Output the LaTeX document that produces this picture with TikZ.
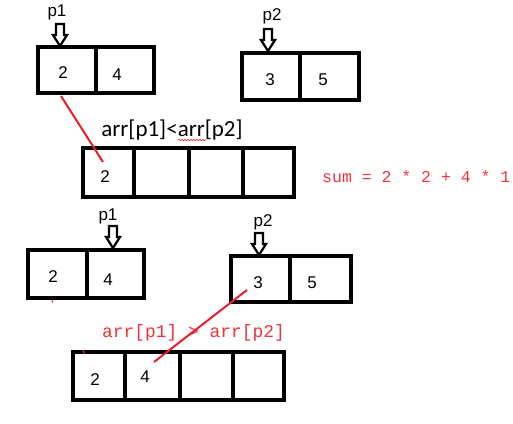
\documentclass[tikz,border=0pt]{standalone}
\usepackage{fontspec}
\setmainfont{Liberation Sans}
\setmonofont{Liberation Mono}
\newfontfamily\calfont{Carlito}
\usetikzlibrary{decorations.pathmorphing}
\definecolor{pred}{RGB}{235,30,40}
\definecolor{tred}{RGB}{240,50,60}
\begin{document}
\begin{tikzpicture}[x=1pt,y=-1pt,
  cell/.style={draw, line width=3.6pt, inner sep=0pt},
  num/.style={font=\fontsize{17}{17}\selectfont, inner sep=0pt},
  plabel/.style={font=\fontsize{17}{17}\selectfont, inner sep=0pt},
  ptr/.pic={\draw[line width=2.2pt, line join=miter] (-4,-22) -- (4,-22) -- (4,-11) -- (7,-11) -- (0,0) -- (-7,-11) -- (-4,-11) -- cycle;},
  redline/.style={draw=pred, line width=2pt},
  redtext/.style={text=tred, inner sep=0pt, anchor=west}]
\useasboundingbox (0,0) rectangle (513,423);

% top-left array
\node[cell, minimum width=58pt, minimum height=46pt] (c11) at (67,70) {};
\node[cell, minimum width=58pt, minimum height=46pt] (c12) at (125,70) {};
\node[num] (n11) at (63,73) {2};
\node[num] (n12) at (117,75) {4};
\node[plabel] (p1a) at (57,12) {p1};
\pic at (60,46) {ptr};

% top-right array
\node[cell, minimum width=58pt, minimum height=47pt] (c21) at (271,76.5) {};
\node[cell, minimum width=59pt, minimum height=47pt] (c22) at (329.5,76.5) {};
\node[num] (n21) at (270,80) {3};
\node[num] (n22) at (323,80) {5};
\node[plabel] (p2a) at (272,16) {p2};
\pic at (268,51) {ptr};

% middle merged array
\node[font=\calfont\fontsize{23}{23}\selectfont, inner sep=0pt] (cmp1) at (172,130) {arr[p1]<arr[p2]};
\draw[pred, line width=0.6pt, decorate, decoration={snake, amplitude=0.8pt, segment length=3pt}] (178,140) -- (206,140);
\node[cell, minimum width=51pt, minimum height=49pt] (m1) at (108.5,172.5) {};
\node[cell, minimum width=55pt, minimum height=49pt] (m2) at (161.5,172.5) {};
\node[cell, minimum width=54pt, minimum height=49pt] (m3) at (216,172.5) {};
\node[cell, minimum width=51pt, minimum height=49pt] (m4) at (268.5,172.5) {};
\node[num] (nm1) at (105,177) {2};
\node[redtext, font=\ttfamily\fontsize{16.5}{16.5}\selectfont] (sum) at (322,177) {sum = 2 * 2 + 4 * 1};

\coordinate (ra) at (61,96);
\coordinate (rb) at (103,162);
\draw[redline] (ra) -- (rb);

% lower-left array
\node[cell, minimum width=59pt, minimum height=48pt] (l1) at (57.5,274) {};
\node[cell, minimum width=57pt, minimum height=48pt] (l2) at (115.5,274) {};
\node[num] (nl1) at (53,277) {2};
\node[num] (nl2) at (108,280) {4};
\node[plabel] (p1b) at (108,216) {p1};
\pic at (113,248) {ptr};

% lower-right array
\node[cell, minimum width=59pt, minimum height=46pt] (r1) at (260.5,279) {};
\node[cell, minimum width=61pt, minimum height=46pt] (r2) at (320.5,279) {};
\node[num] (nr1) at (258,283) {3};
\node[num] (nr2) at (312,283) {5};
\node[plabel] (p2b) at (263,222) {p2};
\pic at (259,255) {ptr};

% bottom merged array
\node[redtext, font=\ttfamily\fontsize{17.9}{17.9}\selectfont] (cmp2) at (102,333) {arr[p1] > arr[p2]};
\node[cell, minimum width=52pt, minimum height=48pt] (b1) at (99,376) {};
\node[cell, minimum width=55pt, minimum height=48pt] (b2) at (152.5,376) {};
\node[cell, minimum width=53pt, minimum height=48pt] (b3) at (206.5,376) {};
\node[cell, minimum width=51pt, minimum height=48pt] (b4) at (258.5,376) {};
\node[num] (nb1) at (95,380) {2};
\node[num] (nb2) at (145,377) {4};

\coordinate (rc) at (247,290);
\coordinate (rd) at (154,362);
\draw[redline] (rc) -- (rd);
\coordinate (t1a) at (52,300);
\coordinate (t1b) at (52.6,302.5);
\draw[pred, line width=1pt] (t1a) -- (t1b);
\coordinate (t2a) at (83,350);
\coordinate (t2b) at (84.5,354);
\draw[pred, line width=1.2pt] (t2a) -- (t2b);
\end{tikzpicture}
\end{document}
